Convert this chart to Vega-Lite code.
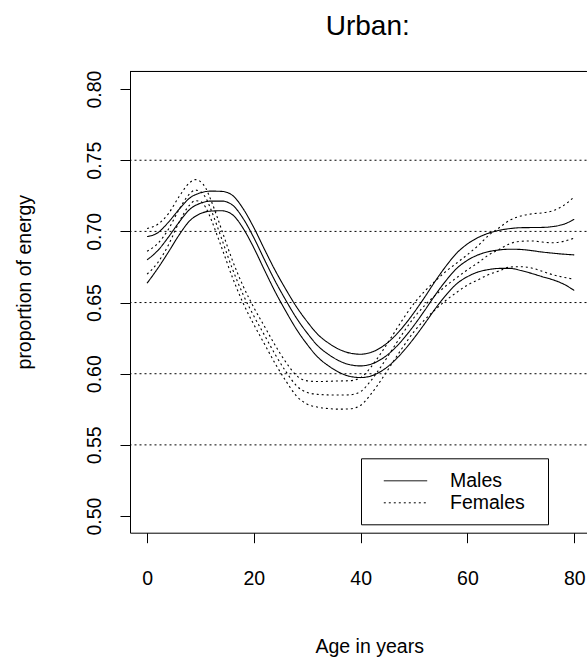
{
  "$schema": "https://vega.github.io/schema/vega-lite/v6.json",
  "width": 456.5,
  "height": 461.7,
  "autosize": {"type": "none"},
  "padding": {"left": 130, "top": 71, "right": 0.5, "bottom": 131.3},
  "background": "white",
  "title": {"text": "Urban:", "font": "Liberation Sans", "fontSize": 28, "fontWeight": "normal", "color": "black", "anchor": "middle", "frame": "group", "dx": 9.5, "offset": 7, "baseline": "alphabetic"},
  "config": {
    "view": {"stroke": null},
    "axis": {"domainColor": "black", "tickColor": "black", "labelColor": "black", "titleColor": "black", "labelFont": "Liberation Sans", "titleFont": "Liberation Sans", "labelFontSize": 19.5, "titleFontSize": 19.5, "titleFontWeight": "normal", "grid": false, "tickSize": 10, "domainWidth": 1, "tickWidth": 1, "labelFlush": false, "labelOverlap": false},
    "axisX": {"labelPadding": 27, "titleX": 239.2, "titleY": 120, "titleBaseline": "alphabetic", "titleAlign": "center"},
    "axisY": {"labelAngle": 270, "labelAlign": "center", "labelBaseline": "bottom", "labelPadding": 16, "titleX": -96, "titleY": 210.7, "titleAngle": 270, "titleAlign": "center", "titleBaseline": "bottom"},
    "legend": {"strokeColor": "black", "fillColor": "white", "padding": 12, "symbolType": "M-2.17,0H2.17", "symbolSize": 400, "symbolStrokeWidth": 1, "symbolStrokeColor": "black", "symbolOffset": 22, "labelFont": "Liberation Sans", "labelFontSize": 19.5, "labelColor": "black", "labelOffset": 34, "rowPadding": 2, "cornerRadius": 0, "titleOrient": "right", "titleFontSize": 10, "titlePadding": 10.5, "titleColor": "white"}
  },
  "datasets": {
    "grid": [{"value": 0.55}, {"value": 0.6}, {"value": 0.65}, {"value": 0.7}, {"value": 0.75}],
    "males": [
      {"age": 0, "lo": 0.6636, "est": 0.68, "hi": 0.6964},
      {"age": 2, "lo": 0.674, "est": 0.6865, "hi": 0.699},
      {"age": 4, "lo": 0.6855, "est": 0.696, "hi": 0.7065},
      {"age": 6, "lo": 0.6975, "est": 0.7065, "hi": 0.7155},
      {"age": 8, "lo": 0.7075, "est": 0.7155, "hi": 0.7235},
      {"age": 10, "lo": 0.7125, "est": 0.7198, "hi": 0.7271},
      {"age": 12, "lo": 0.7143, "est": 0.7213, "hi": 0.7283},
      {"age": 14, "lo": 0.7145, "est": 0.7213, "hi": 0.7281},
      {"age": 16, "lo": 0.7117, "est": 0.7185, "hi": 0.7253},
      {"age": 18, "lo": 0.7021, "est": 0.709, "hi": 0.7159},
      {"age": 20, "lo": 0.6884, "est": 0.6955, "hi": 0.7026},
      {"age": 22, "lo": 0.6727, "est": 0.68, "hi": 0.6873},
      {"age": 24, "lo": 0.6575, "est": 0.665, "hi": 0.6725},
      {"age": 26, "lo": 0.6438, "est": 0.6515, "hi": 0.6592},
      {"age": 28, "lo": 0.6311, "est": 0.639, "hi": 0.6469},
      {"age": 30, "lo": 0.6205, "est": 0.6285, "hi": 0.6365},
      {"age": 32, "lo": 0.6115, "est": 0.6195, "hi": 0.6275},
      {"age": 34, "lo": 0.6055, "est": 0.6135, "hi": 0.6215},
      {"age": 36, "lo": 0.6009, "est": 0.609, "hi": 0.6171},
      {"age": 38, "lo": 0.5981, "est": 0.6063, "hi": 0.6145},
      {"age": 40, "lo": 0.5973, "est": 0.6055, "hi": 0.6137},
      {"age": 42, "lo": 0.5985, "est": 0.6068, "hi": 0.6151},
      {"age": 44, "lo": 0.6021, "est": 0.6105, "hi": 0.6189},
      {"age": 46, "lo": 0.608, "est": 0.6165, "hi": 0.625},
      {"age": 48, "lo": 0.6158, "est": 0.6245, "hi": 0.6332},
      {"age": 50, "lo": 0.625, "est": 0.634, "hi": 0.643},
      {"age": 52, "lo": 0.6352, "est": 0.6445, "hi": 0.6538},
      {"age": 54, "lo": 0.6458, "est": 0.6555, "hi": 0.6652},
      {"age": 56, "lo": 0.6553, "est": 0.6655, "hi": 0.6757},
      {"age": 58, "lo": 0.6632, "est": 0.674, "hi": 0.6848},
      {"age": 60, "lo": 0.6682, "est": 0.6797, "hi": 0.6912},
      {"age": 62, "lo": 0.6715, "est": 0.6835, "hi": 0.6957},
      {"age": 64, "lo": 0.6732, "est": 0.6858, "hi": 0.6988},
      {"age": 66, "lo": 0.674, "est": 0.687, "hi": 0.7008},
      {"age": 68, "lo": 0.674, "est": 0.6875, "hi": 0.702},
      {"age": 70, "lo": 0.6725, "est": 0.6873, "hi": 0.7026},
      {"age": 72, "lo": 0.6705, "est": 0.6865, "hi": 0.7027},
      {"age": 74, "lo": 0.6682, "est": 0.6855, "hi": 0.7028},
      {"age": 76, "lo": 0.666, "est": 0.6847, "hi": 0.7034},
      {"age": 78, "lo": 0.663, "est": 0.684, "hi": 0.705},
      {"age": 80, "lo": 0.6585, "est": 0.6835, "hi": 0.7085}
    ],
    "females": [
      {"age": 0, "lo": 0.67, "est": 0.686, "hi": 0.702},
      {"age": 2, "lo": 0.678, "est": 0.6915, "hi": 0.705},
      {"age": 4, "lo": 0.6905, "est": 0.7015, "hi": 0.7125},
      {"age": 6, "lo": 0.7065, "est": 0.7155, "hi": 0.7245},
      {"age": 8, "lo": 0.7187, "est": 0.7265, "hi": 0.7343},
      {"age": 9, "lo": 0.7216, "est": 0.729, "hi": 0.7364},
      {"age": 10, "lo": 0.721, "est": 0.728, "hi": 0.735},
      {"age": 11, "lo": 0.7167, "est": 0.7235, "hi": 0.7303},
      {"age": 12, "lo": 0.7084, "est": 0.715, "hi": 0.7216},
      {"age": 13, "lo": 0.6985, "est": 0.705, "hi": 0.7115},
      {"age": 14, "lo": 0.6883, "est": 0.6945, "hi": 0.7007},
      {"age": 16, "lo": 0.6675, "est": 0.6735, "hi": 0.6795},
      {"age": 18, "lo": 0.6495, "est": 0.6555, "hi": 0.6615},
      {"age": 20, "lo": 0.6345, "est": 0.6405, "hi": 0.6465},
      {"age": 22, "lo": 0.6208, "est": 0.627, "hi": 0.6332},
      {"age": 24, "lo": 0.6071, "est": 0.6135, "hi": 0.6199},
      {"age": 26, "lo": 0.5949, "est": 0.6015, "hi": 0.6081},
      {"age": 28, "lo": 0.5843, "est": 0.5915, "hi": 0.5987},
      {"age": 30, "lo": 0.5786, "est": 0.5868, "hi": 0.595},
      {"age": 32, "lo": 0.5765, "est": 0.5855, "hi": 0.5945},
      {"age": 34, "lo": 0.5755, "est": 0.5851, "hi": 0.5947},
      {"age": 36, "lo": 0.5751, "est": 0.585, "hi": 0.5949},
      {"age": 38, "lo": 0.5753, "est": 0.5852, "hi": 0.5951},
      {"age": 40, "lo": 0.5778, "est": 0.5875, "hi": 0.5972},
      {"age": 42, "lo": 0.586, "est": 0.5955, "hi": 0.605},
      {"age": 44, "lo": 0.5965, "est": 0.606, "hi": 0.6155},
      {"age": 46, "lo": 0.6079, "est": 0.6175, "hi": 0.6271},
      {"age": 48, "lo": 0.6192, "est": 0.629, "hi": 0.6388},
      {"age": 50, "lo": 0.6296, "est": 0.6395, "hi": 0.6494},
      {"age": 52, "lo": 0.638, "est": 0.648, "hi": 0.658},
      {"age": 54, "lo": 0.6451, "est": 0.6552, "hi": 0.6653},
      {"age": 56, "lo": 0.6516, "est": 0.6618, "hi": 0.672},
      {"age": 58, "lo": 0.6572, "est": 0.6675, "hi": 0.6778},
      {"age": 60, "lo": 0.6623, "est": 0.673, "hi": 0.6837},
      {"age": 62, "lo": 0.666, "est": 0.678, "hi": 0.69},
      {"age": 64, "lo": 0.6697, "est": 0.6835, "hi": 0.6973},
      {"age": 66, "lo": 0.6723, "est": 0.6875, "hi": 0.7027},
      {"age": 68, "lo": 0.675, "est": 0.6915, "hi": 0.708},
      {"age": 70, "lo": 0.6752, "est": 0.693, "hi": 0.7108},
      {"age": 72, "lo": 0.6743, "est": 0.6933, "hi": 0.7123},
      {"age": 74, "lo": 0.672, "est": 0.6925, "hi": 0.713},
      {"age": 76, "lo": 0.6695, "est": 0.692, "hi": 0.7145},
      {"age": 78, "lo": 0.6678, "est": 0.693, "hi": 0.7182},
      {"age": 80, "lo": 0.6663, "est": 0.6953, "hi": 0.7243}
    ]
  },
  "layer": [
    {
      "data": {"name": "grid"},
      "mark": {"type": "rule", "color": "black", "strokeWidth": 1, "strokeDash": [2, 3]},
      "encoding": {
        "y": {"field": "value", "type": "quantitative", "scale": {"domain": [0.4883, 0.8127], "nice": false, "zero": false}, "title": "proportion of energy", "axis": {"values": [0.5, 0.55, 0.6, 0.65, 0.7, 0.75, 0.8], "format": ".2f"}}
      }
    },
    {
      "data": {"name": "grid"},
      "mark": {"type": "rule", "color": "black", "strokeWidth": 1},
      "encoding": {
        "y": {"datum": 0.81235, "type": "quantitative", "title": "proportion of energy", "axis": {"values": [0.5, 0.55, 0.6, 0.65, 0.7, 0.75, 0.8], "format": ".2f"}}
      }
    },
    {
      "data": {"name": "males"},
      "transform": [{"fold": ["lo", "est", "hi"], "as": ["band", "value"]}],
      "mark": {"type": "line", "color": "black", "strokeWidth": 1.1, "interpolate": "monotone"},
      "encoding": {
        "x": {"field": "age", "type": "quantitative", "scale": {"domain": [-3.2, 82.3], "nice": false, "zero": false}, "title": "Age in years", "axis": {"values": [0, 20, 40, 60, 80]}},
        "y": {"field": "value", "type": "quantitative", "title": "proportion of energy", "axis": {"values": [0.5, 0.55, 0.6, 0.65, 0.7, 0.75, 0.8], "format": ".2f"}},
        "detail": {"field": "band"},
        "strokeDash": {"datum": "Males", "type": "nominal", "scale": {"domain": ["Males", "Females"], "range": [[1, 0], [2, 3]]}, "legend": {"title": "\u00a0", "orient": "none", "legendX": 231, "legendY": 387.3}}
      }
    },
    {
      "data": {"name": "females"},
      "transform": [{"fold": ["lo", "est", "hi"], "as": ["band", "value"]}],
      "mark": {"type": "line", "color": "black", "strokeWidth": 1.1, "interpolate": "monotone"},
      "encoding": {
        "x": {"field": "age", "type": "quantitative", "title": "Age in years", "axis": {"values": [0, 20, 40, 60, 80]}},
        "y": {"field": "value", "type": "quantitative", "title": "proportion of energy", "axis": {"values": [0.5, 0.55, 0.6, 0.65, 0.7, 0.75, 0.8], "format": ".2f"}},
        "detail": {"field": "band"},
        "strokeDash": {"datum": "Females", "type": "nominal", "legend": {"title": "\u00a0", "orient": "none", "legendX": 231, "legendY": 387.3}}
      }
    }
  ]
}
